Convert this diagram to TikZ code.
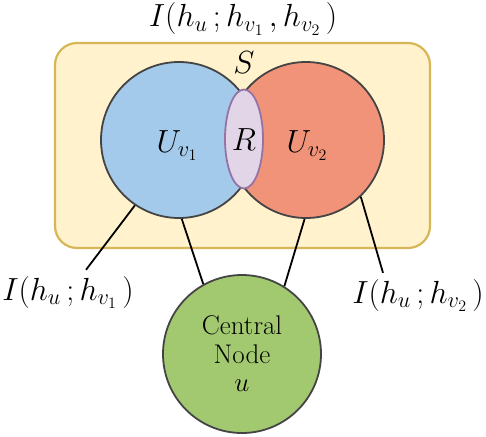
\RequirePackage{fix-cm}
\documentclass[tikz,border=0pt]{standalone}
\usepackage{amsmath,amssymb}
\usepackage{xcolor}
\usepackage{tikz}
\usetikzlibrary{shapes.geometric}
\definecolor{frameyellow}{HTML}{FFF2CC}
\definecolor{frameedge}{HTML}{D6B656}
\definecolor{setblue}{HTML}{A3CAEA}
\definecolor{setred}{HTML}{F19379}
\definecolor{overlapfill}{HTML}{E1D5E7}
\definecolor{overlapedge}{HTML}{9673A6}
\definecolor{nodegreen}{HTML}{A2C970}
\definecolor{rimgray}{HTML}{444444}

\begin{document}
\begin{tikzpicture}[x=1pt, y=-1pt, font=\fontsize{27}{28.5}\selectfont,
  frame/.style={draw=frameedge, fill=frameyellow, line width=2.2pt, rounded corners=22pt, minimum width=375pt, minimum height=205pt, inner sep=0pt},
  set/.style={draw=rimgray, circle, line width=1.8pt, minimum size=156pt, inner sep=0pt},
  overlap/.style={draw=overlapedge, fill=overlapfill, ellipse, line width=1.8pt, minimum width=38pt, minimum height=99pt, inner sep=0pt},
  central/.style={draw=rimgray, fill=nodegreen, circle, line width=1.8pt, minimum size=158pt, inner sep=0pt, align=center},
  lbl/.style={anchor=base, inner sep=0pt, font=\fontsize{32}{38}\selectfont},
  link/.style={line width=1.8pt}]
\useasboundingbox (0,0) rectangle (486,436);
\node[frame] (box) at (242.5,145.5) {};
\node[set, fill=setblue] (v1) at (179,140) {};
\node[set, fill=setred]  (v2) at (306,140) {};
\node[overlap] (R) at (244,139) {};
\node[central] (u) at (242,354) {Central\\Node\\$u$};

\node[lbl] (mi)   at (243,27)  {$I(h_u\,;h_{v_1}\,,h_{v_2}\,)$};
\node[lbl] (S)    at (244,73)  {$S$};
\node[lbl] (Uv1)  at (177,152) {$U_{v_1}$};
\node[lbl] (Rlbl) at (244,150) {$R$};
\node[lbl] (Uv2)  at (307,152) {$U_{v_2}$};
\node[lbl] (mi1)  at (68,300)  {$I(h_u\,;h_{v_1}\,)$};
\node[lbl] (mi2)  at (418,303) {$I(h_u\,;h_{v_2}\,)$};

\draw[link] (v1.236) -- ([xshift=18pt, yshift=6pt]mi1.north);
\draw[link] (v1.272) -- (u.119);
\draw[link] (v2.269) -- (u.58);
\draw[link] (v2.314) -- ([xshift=-35pt, yshift=6pt]mi2.north);
\end{tikzpicture}
\end{document}
